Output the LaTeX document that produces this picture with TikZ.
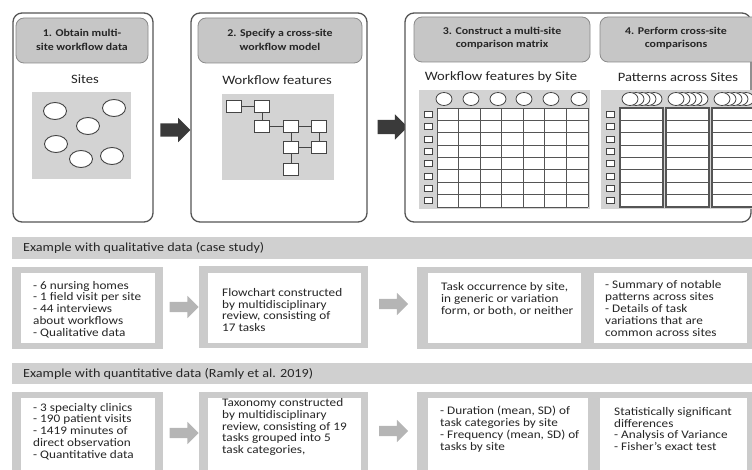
\documentclass[tikz,border=0pt]{standalone}
\usepackage{fontspec}
\setmainfont{Carlito}[FakeStretch=1.14]
\usetikzlibrary{shapes.arrows,shapes.geometric}
\definecolor{frame}{HTML}{555555}
\definecolor{hdr}{HTML}{C6C6C6}
\definecolor{hdrline}{HTML}{8A8A8A}
\definecolor{panelgray}{HTML}{D3D3D3}
\definecolor{txt}{HTML}{262626}
\definecolor{dk}{HTML}{444444}
\definecolor{arrdark}{HTML}{3A3A3A}
\definecolor{arrlight}{HTML}{B5B5B5}
\definecolor{band}{HTML}{D0D0D0}
\definecolor{boxgray}{HTML}{CBCBCB}
\begin{document}
\begin{tikzpicture}[x=1pt,y=-1pt,
  panel/.style={draw=frame, line width=1.3pt, rounded corners=9pt, fill=white},
  hdrbox/.style={draw=hdrline, fill=hdr, line width=0.8pt, rounded corners=8pt},
  hdrtext/.style={font=\fontsize{10.4}{13.5}\selectfont\bfseries, text=txt, align=center, inner sep=0},
  subtitle/.style={font=\fontsize{12.8}{14}\selectfont, text=txt, inner sep=0},
  site/.style={ellipse, draw=dk, fill=white, line width=0.9pt, minimum width=23, minimum height=17, inner sep=0},
  wbox/.style={rectangle, draw=dk, fill=white, line width=0.9pt, minimum width=15, minimum height=12, inner sep=0},
  wline/.style={draw=dk, line width=0.8pt},
  gridline/.style={draw=frame, line width=0.9pt},
  rowsq/.style={rectangle, draw=dk, fill=white, line width=0.8pt, minimum width=8, minimum height=6, inner sep=0},
  colc/.style={ellipse, draw=dk, fill=white, line width=0.8pt, minimum width=16, minimum height=13, inner sep=0},
  bigarrow/.style={single arrow, fill=arrdark, draw=none, inner sep=0, minimum height=30, single arrow head extend=5.5},
  smallarrow/.style={single arrow, fill=arrlight, draw=none, inner sep=0, minimum height=29, single arrow head extend=6},
  bandtext/.style={font=\fontsize{12.4}{14}\selectfont, text=txt, inner sep=0, anchor=west},
  boxtext/.style={font=\fontsize{11.6}{11.8}\selectfont, text=txt, inner sep=0, anchor=west, align=left}
]
\useasboundingbox (0,0) rectangle (752,470);

% ---------- Top panels ----------
\draw[panel] (13,13) rectangle (153,222);
\draw[hdrbox] (16,18) rectangle (148,63);
\node[hdrtext] (h1) at (82,40) {1. Obtain multi-\\site workflow data};
\node[subtitle] (s1) at (85,79) {Sites};
\fill[panelgray] (32,92) rectangle (131,179);
\node[site] (c1) at (55,111) {};
\node[site] (c2) at (114,108) {};
\node[site] (c3) at (88,126) {};
\node[site] (c4) at (56,144) {};
\node[site] (c5) at (81,159) {};
\node[site] (c6) at (112,156) {};

\draw[panel] (191,13) rectangle (367,222);
\draw[hdrbox] (198,18) rectangle (362,63);
\node[hdrtext] (h2) at (280,40) {2. Specify a cross-site\\workflow model};
\node[subtitle] (s2) at (277,80) {Workflow features};
\fill[panelgray] (222,94) rectangle (334,180);
\node[wbox] (w1) at (234,106) {};
\node[wbox] (w2) at (262,106) {};
\node[wbox] (w3) at (262,126) {};
\node[wbox] (w4) at (291,126) {};
\node[wbox] (w5) at (319,126) {};
\node[wbox] (w6) at (291,147) {};
\node[wbox] (w7) at (319,147) {};
\node[wbox] (w8) at (291,169) {};
\draw[wline] (w1) -- (w2);
\draw[wline] (w2) -- (w3);
\draw[wline] (w3) -- (w4);
\draw[wline] (w4) -- (w5);
\draw[wline] (w4) -- (w6);
\draw[wline] (w5) -- (w7);
\draw[wline] (w6) -- (w7);
\draw[wline] (w6) -- (w8);

\node[bigarrow] (a1) at (172,130) {\rule{0pt}{13pt}};
\node[bigarrow] (a2) at (389,127) {\rule{0pt}{14pt}};

\draw[panel] (405,13) rectangle (751,222);
\draw[hdrbox] (414,17) rectangle (590,62);
\node[hdrtext] (h3) at (502,38) {3. Construct a multi-site\\comparison matrix};
\draw[hdrbox] (600,17) rectangle (770,62);
\node[hdrtext] (h4) at (676,38) {4. Perform cross-site\\comparisons};
\node[subtitle] (s3) at (501,77) {Workflow features by Site};
\node[subtitle] (s4) at (678,77) {Patterns across Sites};

% grid 3
\fill[panelgray] (419,90) rectangle (590,209);
\fill[white] (437,108) rectangle (588,207);
\foreach \i in {0,...,7} \draw[gridline] ({437+\i*21.571},108) -- ({437+\i*21.571},207);
\foreach \j in {0,...,8} \draw[gridline] (437,{108+\j*12.375}) -- (588,{108+\j*12.375});
\foreach \j in {0,...,7} \node[rowsq] (ra\j) at (428,{114.2+\j*12.375}) {};
\foreach \x [count=\k] in {444,471,498,524,551,579} \node[colc] (ca\k) at (\x,99) {};

% grid 4
\fill[panelgray] (601,90) rectangle (770,209);
\foreach \xl/\xr [count=\m] in {620/663,666/709,712/770} {
  \fill[white] (\xl,108) rectangle (\xr,207);
  \draw[gridline, line width=1.2pt] (\xl,108) rectangle (\xr,207);
  \foreach \j in {1,...,7} \draw[gridline] (\xl,{108+\j*12.375}) -- (\xr,{108+\j*12.375});
  \foreach \k in {4,3,2,1,0} \node[colc] (cb\m-\k) at ({\xl+10+\k*6},99) {};
}
\foreach \j in {0,...,7} \node[rowsq] (rb\j) at (610,{114.2+\j*12.375}) {};

% ---------- Row 1: qualitative ----------
\fill[band] (12,237) rectangle (760,259);
\node[bandtext] (b1) at (23,248) {Example with qualitative data (case study)};

\fill[boxgray] (12,267) rectangle (163,349);
\fill[white] (21,273) rectangle (155,343);
\node[boxtext] (t11) at (33,309.5) {- 6 nursing homes\\- 1 field visit per site\\- 44 interviews\\about workflows\\- Qualitative data};

\node[smallarrow] (a3) at (181.5,307) {\rule{0pt}{10pt}};

\fill[boxgray] (199,266) rectangle (368,348);
\fill[white] (208,273) rectangle (361,343);
\node[boxtext] (t12) at (222,310) {Flowchart constructed\\by multidisciplinary\\review, consisting of\\17 tasks};

\node[smallarrow] (a4) at (391,304) {\rule{0pt}{10pt}};

\fill[boxgray] (417,267) rectangle (760,349);
\fill[white] (428,273) rectangle (581,343);
\fill[white] (594,273) rectangle (747,343);
\node[boxtext] (t13) at (441,299.5) {Task occurrence by site,\\in generic or variation\\form, or both, or neither};
\node[boxtext] (t14) at (605,308.5) {- Summary of notable\\patterns across sites\\- Details of task\\variations that are\\common across sites};

% ---------- Row 2: quantitative ----------
\fill[band] (12,363) rectangle (760,384);
\node[bandtext] (b2) at (23,373.5) {Example with quantitative data (Ramly et al. 2019)};

\fill[boxgray] (12,392) rectangle (163,480);
\fill[white] (21,398) rectangle (155,480);
\node[boxtext] (t21) at (33,431.5) {- 3 specialty clinics\\- 190 patient visits\\- 1419 minutes of\\direct observation\\- Quantitative data};

\node[smallarrow] (a5) at (181.5,433) {\rule{0pt}{10pt}};

\fill[boxgray] (199,392) rectangle (368,480);
\fill[white] (208,398) rectangle (361,480);
\node[boxtext] (t22) at (222,427) {Taxonomy constructed\\by multidisciplinary\\review, consisting of 19\\tasks grouped into 5\\task categories,};

\node[smallarrow] (a6) at (391,431) {\rule{0pt}{10pt}};

\fill[boxgray] (417,392) rectangle (760,480);
\fill[white] (428,398) rectangle (588,480);
\fill[white] (600,398) rectangle (747,480);
\node[boxtext] (t23) at (440,429) {- Duration (mean, SD) of\\task categories by site\\- Frequency (mean, SD) of\\tasks by site};
\node[boxtext] (t24) at (614,429) {Statistically significant\\differences\\- Analysis of Variance\\- Fisher's exact test};
\end{tikzpicture}
\end{document}
